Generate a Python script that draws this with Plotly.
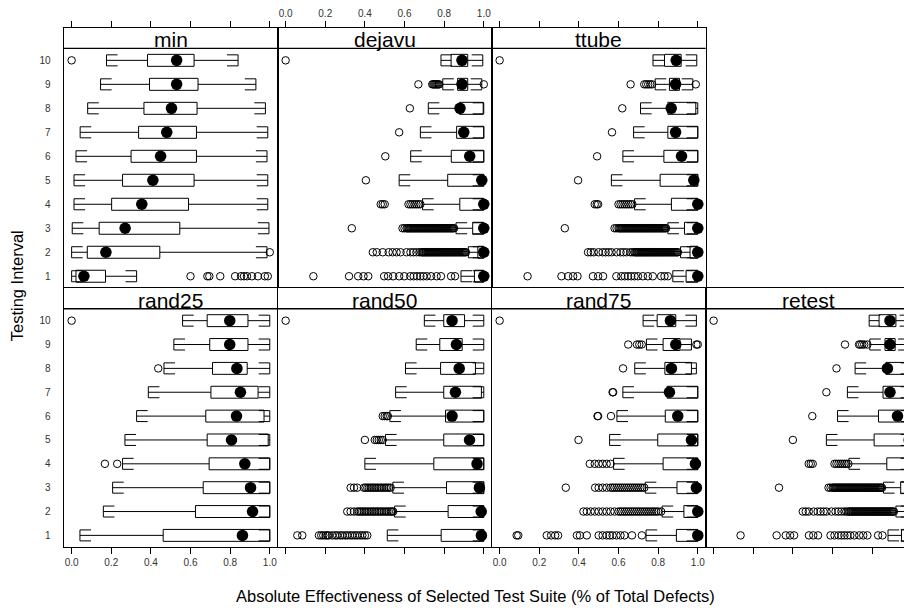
import plotly.graph_objects as go

# ---------------- data ----------------
panels = ["min", "dejavu", "ttube", "rand25", "rand50", "rand75", "retest"]
intervals = [1, 2, 3, 4, 5, 6, 7, 8, 9, 10]
x_tick_vals = [0.0, 0.2, 0.4, 0.6, 0.8, 1.0]
x_tick_text = ["0.0", "0.2", "0.4", "0.6", "0.8", "1.0"]
y_tick_text = ["1", "2", "3", "4", "5", "6", "7", "8", "9", "10"]

# each list is ordered by testing interval 1..10
min_lo = [0.0, 0.0, 0.003, 0.012, 0.012, 0.022, 0.043, 0.081, 0.146, 0.176]
min_q1 = [0.022, 0.079, 0.139, 0.202, 0.257, 0.30, 0.338, 0.365, 0.393, 0.383]
min_med = [0.062, 0.173, 0.27, 0.354, 0.41, 0.449, 0.48, 0.504, 0.53, 0.53]
min_q3 = [0.171, 0.445, 0.546, 0.59, 0.618, 0.63, 0.63, 0.633, 0.638, 0.618]
min_hi = [0.328, 0.986, 0.996, 0.99, 0.99, 0.986, 0.99, 0.978, 0.93, 0.84]
min_out = [
    [0.60, 0.685, 0.695, 0.75, 0.825, 0.855, 0.87, 0.885, 0.91, 0.94, 0.975, 0.99],
    [1.0], [], [], [], [], [], [], [], [0.0]]

dejavu_lo = [0.885, 0.922, 0.86, 0.691, 0.573, 0.631, 0.68, 0.72, 0.793, 0.784]
dejavu_q1 = [0.953, 0.97, 0.944, 0.879, 0.818, 0.836, 0.863, 0.877, 0.868, 0.835]
dejavu_med = [1.0, 1.0, 1.0, 1.0, 0.99, 0.929, 0.899, 0.88, 0.89, 0.89]
dejavu_q3 = [1.0, 1.0, 1.0, 1.0, 1.0, 1.0, 1.0, 0.997, 0.919, 0.919]
dejavu_hi = [1.0, 1.0, 1.0, 1.0, 1.0, 1.0, 1.0, 1.0, 0.99, 0.995]
dejavu_out = [
    [0.14, 0.32, 0.366, 0.393, 0.417, 0.497, 0.517, 0.543, 0.573, 0.599, 0.629,
     0.646, 0.663, 0.68, 0.695, 0.712, 0.734, 0.762, 0.784, 0.835, 0.855],
    [0.44, 0.46, 0.49, 0.52, 0.54, 0.56, 0.58, 0.61, 0.63, 0.645, 0.66, 0.675,
     0.685, 0.69, 0.695, 0.70, 0.705, 0.71, 0.715, 0.72, 0.725, 0.73, 0.735,
     0.74, 0.745, 0.75, 0.755, 0.76, 0.765, 0.77, 0.775, 0.78, 0.785, 0.79,
     0.795, 0.80, 0.805, 0.81, 0.815, 0.82, 0.825, 0.83, 0.835, 0.84, 0.845,
     0.85, 0.855, 0.86, 0.865, 0.87, 0.875, 0.88, 0.885, 0.89, 0.895, 0.90,
     0.905, 0.91],
    [0.334, 0.59, 0.60, 0.61, 0.615, 0.62, 0.625, 0.63, 0.635, 0.64, 0.645,
     0.65, 0.655, 0.66, 0.665, 0.67, 0.675, 0.68, 0.685, 0.69, 0.695, 0.70,
     0.705, 0.71, 0.715, 0.72, 0.725, 0.73, 0.735, 0.74, 0.745, 0.75, 0.755,
     0.76, 0.765, 0.77, 0.775, 0.78, 0.785, 0.79, 0.795, 0.80, 0.805, 0.81,
     0.815, 0.82, 0.825, 0.83, 0.835, 0.84, 0.845, 0.85],
    [0.48, 0.49, 0.50, 0.62, 0.63, 0.64, 0.65, 0.66, 0.67, 0.68],
    [0.405], [0.503], [0.573], [0.627],
    [0.67, 0.74, 0.745, 0.75, 0.755, 0.76, 0.765, 0.77, 0.775, 1.0],
    [0.0]]

ttube_lo = [0.874, 0.913, 0.849, 0.681, 0.564, 0.622, 0.676, 0.711, 0.785, 0.774]
ttube_q1 = [0.941, 0.961, 0.933, 0.867, 0.81, 0.829, 0.849, 0.849, 0.857, 0.832]
ttube_med = [1.0, 1.0, 1.0, 1.0, 0.98, 0.918, 0.888, 0.866, 0.888, 0.891]
ttube_q3 = [1.0, 1.0, 1.0, 1.0, 1.0, 1.0, 1.0, 0.99, 0.908, 0.916]
ttube_hi = [1.0, 1.0, 1.0, 1.0, 1.0, 1.0, 1.0, 1.0, 0.975, 0.995]
ttube_out = [
    [0.141, 0.312, 0.346, 0.371, 0.393, 0.471, 0.497, 0.522, 0.589, 0.614, 0.631,
     0.648, 0.664, 0.681, 0.698, 0.723, 0.748, 0.773, 0.815, 0.832, 0.849],
    [0.446, 0.46, 0.475, 0.50, 0.52, 0.535, 0.55, 0.565, 0.59, 0.61, 0.625, 0.64,
     0.66, 0.67, 0.68, 0.685, 0.69, 0.695, 0.70, 0.705, 0.71, 0.715, 0.72,
     0.725, 0.73, 0.735, 0.74, 0.745, 0.75, 0.755, 0.76, 0.765, 0.77, 0.775,
     0.78, 0.785, 0.79, 0.795, 0.80, 0.805, 0.81, 0.815, 0.82, 0.825, 0.83,
     0.835, 0.84, 0.845, 0.85, 0.855, 0.86, 0.865, 0.87, 0.875, 0.88, 0.885,
     0.89, 0.895, 0.90],
    [0.329, 0.58, 0.59, 0.60, 0.605, 0.61, 0.615, 0.62, 0.625, 0.63, 0.635,
     0.64, 0.645, 0.65, 0.655, 0.66, 0.665, 0.67, 0.675, 0.68, 0.685, 0.69,
     0.695, 0.70, 0.705, 0.71, 0.715, 0.72, 0.725, 0.73, 0.735, 0.74, 0.745,
     0.75, 0.755, 0.76, 0.765, 0.77, 0.775, 0.78, 0.785, 0.79, 0.795, 0.80,
     0.805, 0.81, 0.815, 0.82, 0.825, 0.83, 0.835, 0.84],
    [0.48, 0.49, 0.497, 0.60, 0.61, 0.62, 0.63, 0.64, 0.65, 0.66, 0.67],
    [0.396], [0.492], [0.567], [0.619],
    [0.661, 0.73, 0.74, 0.75, 0.76, 0.77, 0.99],
    [0.0]]

rand25_lo = [0.042, 0.16, 0.207, 0.257, 0.269, 0.328, 0.387, 0.466, 0.516, 0.56]
rand25_q1 = [0.462, 0.625, 0.664, 0.694, 0.684, 0.677, 0.703, 0.711, 0.697, 0.684]
rand25_med = [0.862, 0.913, 0.903, 0.874, 0.807, 0.832, 0.852, 0.834, 0.798, 0.798]
rand25_q3 = [1.0, 1.0, 1.0, 1.0, 0.992, 0.971, 0.941, 0.886, 0.89, 0.89]
rand25_hi = [1.0, 1.0, 1.0, 1.0, 1.0, 1.0, 1.0, 1.0, 1.0, 1.0]
rand25_out = [[], [], [], [0.168, 0.23], [], [], [], [0.437], [], [0.0]]

rand50_lo = [0.513, 0.55, 0.541, 0.40, 0.504, 0.526, 0.555, 0.605, 0.659, 0.70]
rand50_q1 = [0.785, 0.82, 0.812, 0.748, 0.798, 0.807, 0.798, 0.782, 0.778, 0.798]
rand50_med = [0.988, 0.987, 0.978, 0.966, 0.928, 0.84, 0.857, 0.876, 0.862, 0.84]
rand50_q3 = [1.0, 1.0, 1.0, 1.0, 1.0, 1.0, 0.988, 0.958, 0.891, 0.903]
rand50_hi = [1.0, 1.0, 1.0, 1.0, 1.0, 1.0, 1.0, 1.0, 1.0, 1.0]
rand50_out = [
    [0.059, 0.084, 0.168, 0.18, 0.19, 0.202, 0.21, 0.218, 0.235, 0.25, 0.26,
     0.275, 0.286, 0.30, 0.311, 0.325, 0.336, 0.35, 0.361, 0.375, 0.387, 0.40,
     0.412],
    [0.311, 0.328, 0.345, 0.361, 0.37, 0.378, 0.386, 0.395, 0.403, 0.412, 0.42,
     0.429, 0.437, 0.445, 0.453, 0.462, 0.47, 0.479, 0.487, 0.496, 0.505, 0.513,
     0.521, 0.53, 0.537, 0.543],
    [0.328, 0.345, 0.361, 0.395, 0.403, 0.412, 0.42, 0.429, 0.437, 0.445, 0.453,
     0.462, 0.47, 0.479, 0.487, 0.496, 0.505, 0.513, 0.521, 0.53],
    [], [0.40, 0.45, 0.46, 0.47, 0.48, 0.49], [0.49, 0.50, 0.51, 0.516],
    [], [], [], [0.0]]

rand75_lo = [0.739, 0.82, 0.735, 0.575, 0.555, 0.592, 0.622, 0.682, 0.741, 0.724]
rand75_q1 = [0.892, 0.93, 0.895, 0.825, 0.798, 0.836, 0.845, 0.834, 0.825, 0.795]
rand75_med = [1.0, 1.0, 0.993, 0.988, 0.968, 0.899, 0.857, 0.867, 0.889, 0.862]
rand75_q3 = [1.0, 1.0, 1.0, 1.0, 1.0, 1.0, 1.0, 0.968, 0.91, 0.889]
rand75_hi = [1.0, 1.0, 1.0, 1.0, 1.0, 1.0, 1.0, 0.993, 0.968, 0.993]
rand75_out = [
    [0.086, 0.094, 0.238, 0.26, 0.28, 0.295, 0.39, 0.405, 0.44, 0.50, 0.52,
     0.54, 0.555, 0.57, 0.59, 0.61, 0.63, 0.668, 0.718],
    [0.423, 0.44, 0.46, 0.48, 0.50, 0.52, 0.54, 0.56, 0.58, 0.60, 0.61, 0.62,
     0.63, 0.64, 0.65, 0.66, 0.67, 0.68, 0.69, 0.70, 0.71, 0.72, 0.73, 0.74,
     0.75, 0.76, 0.77, 0.78, 0.79, 0.80, 0.815],
    [0.334, 0.482, 0.50, 0.52, 0.54, 0.56, 0.57, 0.58, 0.59, 0.60, 0.61, 0.62,
     0.63, 0.64, 0.65, 0.66, 0.67, 0.68, 0.69, 0.70, 0.71, 0.72, 0.73],
    [0.455, 0.48, 0.50, 0.52, 0.54, 0.56],
    [0.398], [0.494, 0.497, 0.562], [0.57, 0.573], [0.623],
    [0.649, 0.693, 0.705, 0.717, 0.993, 1.0],
    [0.0]]

retest_lo = [0.88, 0.92, 0.857, 0.683, 0.569, 0.625, 0.675, 0.714, 0.788, 0.785]
retest_q1 = [0.948, 0.966, 0.944, 0.874, 0.81, 0.832, 0.855, 0.869, 0.865, 0.835]
retest_med = [1.0, 1.0, 1.0, 1.0, 0.987, 0.928, 0.89, 0.877, 0.89, 0.89]
retest_q3 = [1.0, 1.0, 1.0, 1.0, 1.0, 1.0, 1.0, 1.0, 0.916, 0.92]
retest_hi = [1.0, 1.0, 1.0, 1.0, 1.0, 1.0, 1.0, 1.0, 0.987, 0.995]
retest_out = [
    [0.136, 0.318, 0.364, 0.386, 0.406, 0.481, 0.503, 0.527, 0.59, 0.61, 0.63,
     0.645, 0.66, 0.675, 0.69, 0.71, 0.735, 0.755, 0.776, 0.83, 0.852],
    [0.45, 0.465, 0.48, 0.505, 0.525, 0.54, 0.555, 0.57, 0.595, 0.615, 0.63,
     0.645, 0.66, 0.67, 0.68, 0.685, 0.69, 0.695, 0.70, 0.705, 0.71, 0.715,
     0.72, 0.725, 0.73, 0.735, 0.74, 0.745, 0.75, 0.755, 0.76, 0.765, 0.77,
     0.775, 0.78, 0.785, 0.79, 0.795, 0.80, 0.805, 0.81, 0.815, 0.82, 0.825,
     0.83, 0.835, 0.84, 0.845, 0.85, 0.855, 0.86, 0.865, 0.87, 0.875, 0.88,
     0.885, 0.89, 0.895, 0.90, 0.905, 0.91],
    [0.33, 0.58, 0.59, 0.60, 0.605, 0.61, 0.615, 0.62, 0.625, 0.63, 0.635,
     0.64, 0.645, 0.65, 0.655, 0.66, 0.665, 0.67, 0.675, 0.68, 0.685, 0.69,
     0.695, 0.70, 0.705, 0.71, 0.715, 0.72, 0.725, 0.73, 0.735, 0.74, 0.745,
     0.75, 0.755, 0.76, 0.765, 0.77, 0.775, 0.78, 0.785, 0.79, 0.795, 0.80,
     0.805, 0.81, 0.815, 0.82, 0.825, 0.83, 0.835, 0.84, 0.845, 0.85],
    [0.48, 0.49, 0.50, 0.61, 0.62, 0.63, 0.64, 0.65, 0.66, 0.67, 0.68],
    [0.40], [0.498], [0.569], [0.62],
    [0.663, 0.734, 0.74, 0.75, 0.76, 0.776, 0.995],
    [0.0]]

stats = {
    "min": (min_lo, min_q1, min_med, min_q3, min_hi, min_out),
    "dejavu": (dejavu_lo, dejavu_q1, dejavu_med, dejavu_q3, dejavu_hi, dejavu_out),
    "ttube": (ttube_lo, ttube_q1, ttube_med, ttube_q3, ttube_hi, ttube_out),
    "rand25": (rand25_lo, rand25_q1, rand25_med, rand25_q3, rand25_hi, rand25_out),
    "rand50": (rand50_lo, rand50_q1, rand50_med, rand50_q3, rand50_hi, rand50_out),
    "rand75": (rand75_lo, rand75_q1, rand75_med, rand75_q3, rand75_hi, rand75_out),
    "retest": (retest_lo, retest_q1, retest_med, retest_q3, retest_hi, retest_out),
}

# ---------------- layout geometry ----------------
# page pixels of the reference; the figure div sits at an 8px body margin
OFF = 8.0
PAGE_W = 912.0
W, H = 904, 601
FONT = "Liberation Sans, Arial, Helvetica, sans-serif"
col_left = [63.7, 277.7, 491.7, 705.7]
col_w = 214.0
# (strip top, panel top, panel bottom) per row, page pixels
rows_px = [(22.0, 42.7, 285.0), (284.7, 305.7, 546.7)]
pos = {"min": (0, 0), "dejavu": (0, 1), "ttube": (0, 2),
       "rand25": (1, 0), "rand50": (1, 1), "rand75": (1, 2), "retest": (1, 3)}
xmin, xmax = -0.04, 1.04
px_per_unit = col_w / (xmax - xmin)


def px_x(px):
    return (px - OFF) / W


def px_y(py):
    return 1 - (py - OFF) / H


BOX_H = 0.25
BR_H = 0.23
ARM = 0.056

fig = go.Figure()
layout = dict(
    width=W, height=H, margin=dict(l=0, r=0, t=0, b=0),
    paper_bgcolor="white", plot_bgcolor="white", showlegend=False,
    font=dict(family=FONT, color="black"),
)
shapes = []
annotations = []

for k, name in enumerate(panels, start=1):
    r, c = pos[name]
    s_top, p_top, p_bot = rows_px[r]
    left = col_left[c]
    right = min(left + col_w, PAGE_W)
    row_px = (p_bot - p_top) / 10.0
    y_top = 10.5 + (p_top - s_top) / row_px
    x_hi = xmin + (right - left) / px_per_unit

    xa = "x" if k == 1 else f"x{k}"
    ya = "y" if k == 1 else f"y{k}"
    xkey = "xaxis" if k == 1 else f"xaxis{k}"
    ykey = "yaxis" if k == 1 else f"yaxis{k}"

    if r == 0:
        side = "top"
        show_lab = (c == 1)
    else:
        side = "bottom"
        show_lab = (c in (0, 2))
    layout[xkey] = dict(
        domain=[px_x(left), min(px_x(right), 1.0)], range=[xmin, x_hi], anchor=ya,
        side=side, tickmode="array", tickvals=x_tick_vals, ticktext=x_tick_text,
        ticks="outside", ticklen=6, tickwidth=1, tickcolor="black",
        showticklabels=show_lab, tickfont=dict(size=10, color="#333333", family=FONT),
        showgrid=False, zeroline=False, showline=True, linecolor="black",
        linewidth=1.3, mirror=True, fixedrange=True,
    )
    layout[ykey] = dict(
        domain=[px_y(p_bot), px_y(s_top)], range=[0.5, y_top], anchor=xa,
        tickmode="array", tickvals=intervals, ticktext=y_tick_text,
        ticks="", showticklabels=(c == 0), ticklabelstandoff=10,
        tickfont=dict(size=10, color="#333333", family=FONT),
        showgrid=False, zeroline=False, showline=True, linecolor="black",
        linewidth=1.3, mirror=(c != 3), fixedrange=True,
    )

    shapes.append(dict(type="line", xref=f"{xa} domain", yref=ya,
                       x0=0, x1=1, y0=10.5, y1=10.5,
                       line=dict(color="black", width=1.3)))
    annotations.append(dict(text=name, xref=f"{xa} domain", yref=ya,
                            x=0.5, y=10.5, xanchor="center", yanchor="bottom",
                            yshift=-5, showarrow=False,
                            font=dict(size=21, family=FONT, color="black")))

    lo, q1, med, q3, hi, outs = stats[name]
    lx, ly = [], []
    for i, yv in enumerate(intervals):
        lx += [q1[i], q3[i], q3[i], q1[i], q1[i], None]
        ly += [yv - BOX_H, yv - BOX_H, yv + BOX_H, yv + BOX_H, yv - BOX_H, None]
        lx += [lo[i], q1[i], None, q3[i], hi[i], None]
        ly += [yv, yv, None, yv, yv, None]
        lx += [lo[i] + ARM, lo[i], lo[i], lo[i] + ARM, None]
        ly += [yv + BR_H, yv + BR_H, yv - BR_H, yv - BR_H, None]
        lx += [hi[i] - ARM, hi[i], hi[i], hi[i] - ARM, None]
        ly += [yv + BR_H, yv + BR_H, yv - BR_H, yv - BR_H, None]
    fig.add_trace(go.Scatter(x=lx, y=ly, mode="lines", xaxis=xa, yaxis=ya,
                             line=dict(color="black", width=1),
                             hoverinfo="skip"))
    ox, oy = [], []
    for i, yv in enumerate(intervals):
        for v in outs[i]:
            ox.append(v)
            oy.append(yv)
    fig.add_trace(go.Scatter(x=ox, y=oy, mode="markers", xaxis=xa, yaxis=ya,
                             marker=dict(symbol="circle-open", size=7.5,
                                         color="black", line=dict(width=1))))
    fig.add_trace(go.Scatter(x=med, y=intervals, mode="markers", xaxis=xa, yaxis=ya,
                             marker=dict(symbol="circle", size=11.5, color="black")))

annotations.append(dict(
    text="Absolute Effectiveness of Selected Test Suite (% of Total Defects)",
    xref="paper", yref="paper", x=px_x(475.5), y=px_y(596),
    xanchor="center", yanchor="middle", showarrow=False,
    font=dict(size=16.5, family=FONT, color="black")))
annotations.append(dict(
    text="Testing Interval", xref="paper", yref="paper",
    x=px_x(17), y=px_y(283), textangle=-90,
    xanchor="center", yanchor="middle", showarrow=False,
    font=dict(size=16.5, family=FONT, color="black")))

layout["shapes"] = shapes
layout["annotations"] = annotations
fig.update_layout(**layout)
fig.write_html("out.html")
